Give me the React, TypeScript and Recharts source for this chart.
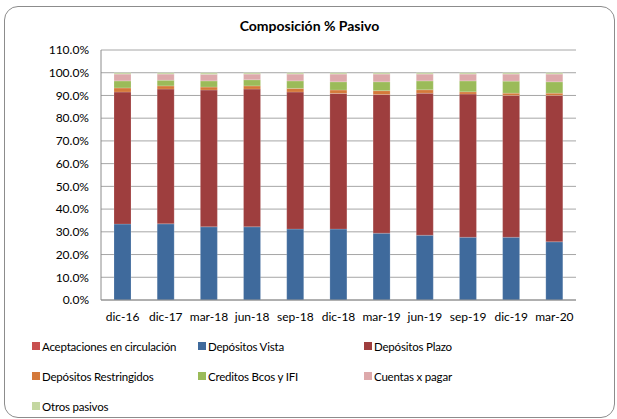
import { BarChart, Bar, XAxis, YAxis, CartesianGrid } from 'recharts';

const periods = ['dic-16', 'dic-17', 'mar-18', 'jun-18', 'sep-18', 'dic-18', 'mar-19', 'jun-19', 'sep-19', 'dic-19', 'mar-20'];

const aceptaciones = [0, 0, 0, 0, 0, 0, 0, 0, 0, 0, 0];
const vista = [33.4, 33.5, 32.2, 32.2, 31.2, 31.2, 29.4, 28.5, 27.6, 27.6, 25.6];
const plazo = [58.1, 59.3, 60.2, 60.6, 60.3, 59.7, 61.0, 62.5, 63.0, 62.4, 64.4];
const restringidos = [1.8, 1.4, 1.3, 1.4, 1.6, 1.5, 1.7, 1.5, 1.0, 1.0, 1.0];
const creditos = [3.1, 2.5, 2.7, 2.7, 3.3, 3.6, 3.9, 3.9, 4.8, 5.3, 5.0];
const cuentas = [3.0, 2.7, 2.9, 2.5, 3.0, 3.4, 3.4, 3.0, 3.0, 3.1, 3.4];
const otros = [0.6, 0.6, 0.7, 0.6, 0.6, 0.6, 0.6, 0.6, 0.6, 0.6, 0.6];

const yTicks = [0, 10, 20, 30, 40, 50, 60, 70, 80, 90, 100, 110];

const SERIES = [
  { key: 'aceptaciones', label: 'Aceptaciones en circulación', color: '#C8504F', values: aceptaciones },
  { key: 'vista', label: 'Depósitos Vista', color: '#3F6A9C', values: vista },
  { key: 'plazo', label: 'Depósitos Plazo', color: '#9E3E3E', values: plazo },
  { key: 'restringidos', label: 'Depósitos Restringidos', color: '#D4793A', values: restringidos },
  { key: 'creditos', label: 'Creditos Bcos y IFI', color: '#9BBB59', values: creditos },
  { key: 'cuentas', label: 'Cuentas x pagar', color: '#DDA9AB', values: cuentas },
  { key: 'otros', label: 'Otros pasivos', color: '#C4D7A1', values: otros },
];

const data = periods.map((p, i) => {
  const row: Record<string, string | number> = { period: p };
  SERIES.forEach((s) => {
    row[s.key] = s.values[i];
  });
  return row;
});

const FONT = 'Lato, "Liberation Sans", sans-serif';

function LegendGrid() {
  return (
    <div
      style={{
        position: 'absolute',
        left: 32,
        top: 338,
        display: 'grid',
        gridTemplateColumns: '166px 166px 166px',
        rowGap: 14,
        fontFamily: FONT,
        fontSize: 11.5,
        letterSpacing: -0.2,
        color: '#000',
      }}
    >
      {SERIES.map((s) => (
        <div key={s.key} style={{ display: 'flex', alignItems: 'center', height: 16 }}>
          <span style={{ width: 8, height: 8, background: s.color, marginRight: 2, display: 'inline-block' }} />
          <span>{s.label}</span>
        </div>
      ))}
    </div>
  );
}

export default function App() {
  return (
    <div style={{ position: 'absolute', left: 0, top: 0, width: 617, height: 419, background: '#fff', overflow: 'hidden' }}>
      <div
        style={{
          position: 'absolute',
          left: 4,
          top: 6,
          width: 609,
          height: 410,
          border: '1px solid #8c8c8c',
          borderRadius: 14,
        }}
      />
      <div
        style={{
          position: 'absolute',
          top: 17,
          left: 1,
          width: 617,
          textAlign: 'center',
          fontFamily: FONT,
          fontWeight: 'bold',
          fontSize: 14,
        }}
      >
        Composición % Pasivo
      </div>
      <div style={{ position: 'absolute', left: 0, top: 0 }}>
        <BarChart
          width={617}
          height={330}
          data={data}
          margin={{ top: 50, right: 41, left: 0, bottom: 0 }}
          barSize={17}
        >
          <CartesianGrid vertical={false} stroke="#a6a6a6" />
          <XAxis
            dataKey="period"
            tick={{ fontSize: 12, fill: '#000', fontFamily: FONT }}
            tickLine={false}
            axisLine={{ stroke: '#8c8c8c' }}
            tickMargin={6}
            height={30}
            interval={0}
          />
          <YAxis
            width={101}
            domain={[0, 110]}
            ticks={yTicks}
            interval={0}
            tickFormatter={(v: number) => `${v.toFixed(1)}%`}
            tick={{ fontSize: 12, fill: '#000', fontFamily: FONT }}
            tickLine={false}
            axisLine={{ stroke: '#8c8c8c' }}
            tickMargin={6}
          />
          {SERIES.map((s) => (
            <Bar
              key={s.key}
              dataKey={s.key}
              name={s.label}
              stackId="a"
              fill={s.color}
              stroke="#ffffff"
              strokeOpacity={0.35}
              strokeWidth={0.5}
              isAnimationActive={false}
            />
          ))}
        </BarChart>
      </div>
      <LegendGrid />
    </div>
  );
}
